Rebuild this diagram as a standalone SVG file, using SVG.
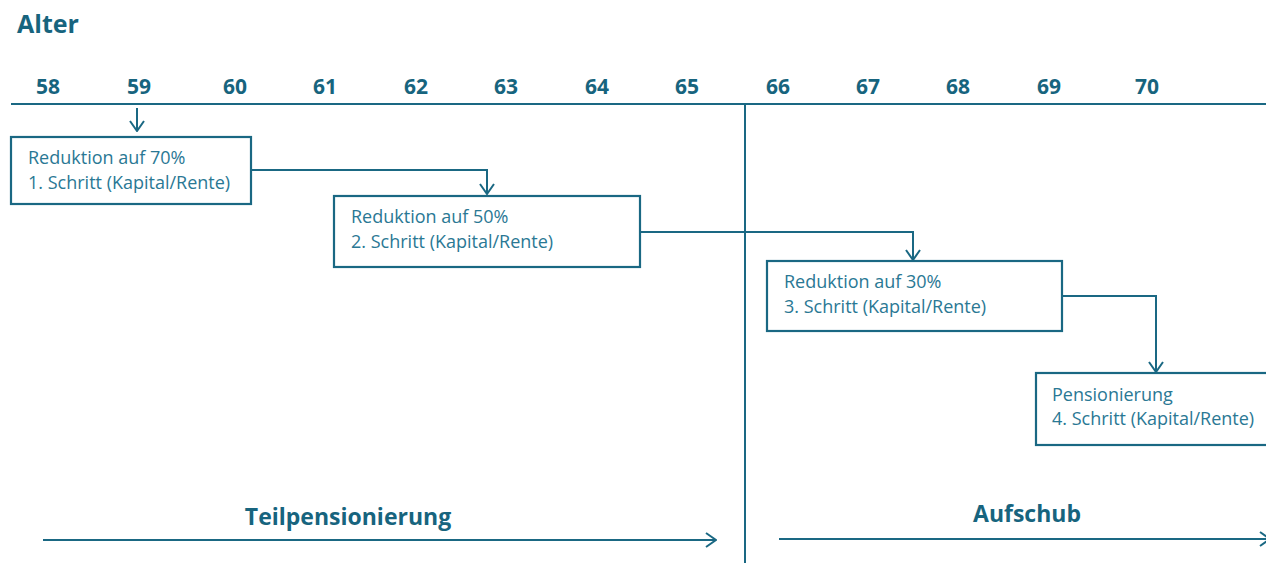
<svg xmlns="http://www.w3.org/2000/svg" width="1266" height="563" viewBox="0 0 1266 563">
<style>
.t{font-family:"Open Sans","Liberation Sans",sans-serif;font-weight:bold;fill:#17647e}
.n{font-size:21px;text-anchor:middle}
.b{font-family:"Open Sans","Liberation Sans",sans-serif;font-size:18px;fill:#2a7894}
.ln{stroke:#1a6883;stroke-width:2;fill:none}
.box{stroke:#1a6883;stroke-width:2.2;fill:#fff}
</style>
<defs>
<marker id="ah" viewBox="0 0 12 16" refX="11" refY="8" markerWidth="12" markerHeight="16" markerUnits="userSpaceOnUse" orient="auto">
<path d="M1,1 L11,8 L1,15" fill="none" stroke="#1a6883" stroke-width="2"/>
</marker>
</defs>
<rect width="1266" height="563" fill="#fff"/>
<g id="title"><text class="t" x="17" y="33" font-size="25">Alter</text></g>
<g id="axis">
<line class="ln" x1="11" y1="104" x2="1266" y2="104"/>
<text class="t n" x="48" y="94">58</text>
<text class="t n" x="139" y="94">59</text>
<text class="t n" x="235" y="94">60</text>
<text class="t n" x="325" y="94">61</text>
<text class="t n" x="416" y="94">62</text>
<text class="t n" x="506" y="94">63</text>
<text class="t n" x="597" y="94">64</text>
<text class="t n" x="687" y="94">65</text>
<text class="t n" x="778" y="94">66</text>
<text class="t n" x="868" y="94">67</text>
<text class="t n" x="958" y="94">68</text>
<text class="t n" x="1049" y="94">69</text>
<text class="t n" x="1147" y="94">70</text>
</g>
<g id="divider"><line class="ln" x1="745" y1="104" x2="745" y2="563"/></g>
<g id="connectors">
<path class="ln" d="M137,108 V131" marker-end="url(#ah)"/>
<path class="ln" d="M251,170 H487 V194" marker-end="url(#ah)"/>
<path class="ln" d="M640,232 H913 V260" marker-end="url(#ah)"/>
<path class="ln" d="M1062,296 H1156 V372" marker-end="url(#ah)"/>
<path class="ln" d="M43,540 H716" marker-end="url(#ah)"/>
<path class="ln" d="M779,539 H1270" marker-end="url(#ah)"/>
</g>
<g id="step1">
<rect class="box" x="11" y="137" width="240" height="67"/>
<text class="b" x="28" y="164">Reduktion auf 70%</text>
<text class="b" x="28" y="189">1. Schritt (Kapital/Rente)</text>
</g>
<g id="step2">
<rect class="box" x="334" y="196" width="306" height="71"/>
<text class="b" x="351" y="223">Reduktion auf 50%</text>
<text class="b" x="351" y="248">2. Schritt (Kapital/Rente)</text>
</g>
<g id="step3">
<rect class="box" x="767" y="261" width="295" height="70"/>
<text class="b" x="784" y="288">Reduktion auf 30%</text>
<text class="b" x="784" y="313">3. Schritt (Kapital/Rente)</text>
</g>
<g id="step4">
<rect class="box" x="1036" y="373" width="240" height="72"/>
<text class="b" x="1052" y="401">Pensionierung</text>
<text class="b" x="1052" y="425">4. Schritt (Kapital/Rente)</text>
</g>
<g id="phase1"><text class="t" x="348" y="525" font-size="23" text-anchor="middle">Teilpensionierung</text></g>
<g id="phase2"><text class="t" x="1027" y="522" font-size="23" text-anchor="middle">Aufschub</text></g>
</svg>
